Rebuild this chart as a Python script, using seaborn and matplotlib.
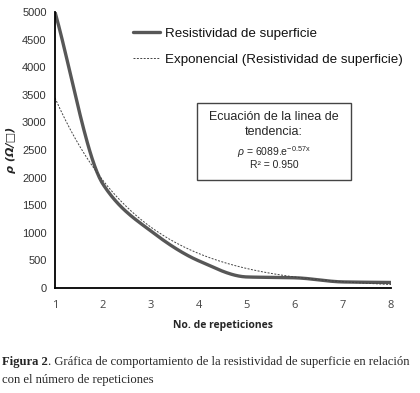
import numpy as np
import pandas as pd
import matplotlib
matplotlib.use("Agg")
import matplotlib.pyplot as plt
from matplotlib.patches import Rectangle
import seaborn as sns

# data
repeticiones = [1, 2, 3, 4, 5, 6, 7, 8]
resistividad = [5000, 1880, 1030, 490, 200, 185, 110, 100]
coef_a = 6089
coef_b = -0.57
r2 = 0.950


def suavizar(x, y, n=40):
    # monotone cubic (Fritsch-Carlson) for the smoothed line
    x = np.asarray(x, float)
    y = np.asarray(y, float)
    h = np.diff(x)
    d = np.diff(y) / h
    m = np.zeros_like(y)
    for i in range(1, len(y) - 1):
        if d[i - 1] * d[i] > 0:
            m[i] = 2 / (1 / d[i - 1] + 1 / d[i])
    m[0] = d[0]
    m[-1] = d[-1]
    xs, ys = [], []
    t = np.linspace(0, 1, n, endpoint=False)
    for i in range(len(x) - 1):
        h00 = 2 * t ** 3 - 3 * t ** 2 + 1
        h10 = t ** 3 - 2 * t ** 2 + t
        h01 = -2 * t ** 3 + 3 * t ** 2
        h11 = t ** 3 - t ** 2
        xs.extend(x[i] + t * h[i])
        ys.extend(h00 * y[i] + h10 * h[i] * m[i] + h01 * y[i + 1] + h11 * h[i] * m[i + 1])
    xs.append(x[-1])
    ys.append(y[-1])
    return np.array(xs), np.array(ys)


sx, sy = suavizar(repeticiones, resistividad)
df = pd.DataFrame({"x": sx, "y": sy})
tx = np.linspace(1, 8, 200)
df_tend = pd.DataFrame({"x": tx, "y": coef_a * np.exp(coef_b * tx)})

sns.set_style("white")
plt.rcParams['font.family'] = ['Liberation Sans', 'DejaVu Sans']
plt.rcParams['mathtext.fontset'] = 'custom'
plt.rcParams['mathtext.rm'] = 'Liberation Sans'
plt.rcParams['mathtext.it'] = 'Liberation Sans:italic'

fig = plt.figure(figsize=(4.2, 3.93), dpi=100)
ax = fig.add_axes([55 / 420, 1 - 288 / 393, 336 / 420, 276 / 393])

sns.lineplot(data=df, x="x", y="y", ax=ax, color="#575757", lw=2.4, sort=False,
             label="Resistividad de superficie")
sns.lineplot(data=df_tend, x="x", y="y", ax=ax, color="#444444", lw=0.7,
             linestyle=(0, (2, 1.5)), label="Exponencial (Resistividad de superficie)")

ax.set_xlim(1, 8)
ax.set_ylim(0, 5000)
ax.set_xticks(repeticiones)
ax.set_yticks(range(0, 5001, 500))
for s in ["top", "right"]:
    ax.spines[s].set_visible(False)
for s in ["left", "bottom"]:
    ax.spines[s].set_color("black")
    ax.spines[s].set_linewidth(1.3)
ax.tick_params(axis="y", direction="out", length=4, width=1, labelsize=8, colors="black",
               labelcolor="#333333", pad=2)
ax.tick_params(axis="x", direction="in", length=4, width=1, labelsize=8, colors="black",
               labelcolor="#444444", pad=9)
for lab in ax.get_xticklabels():
    lab.set_family("Open Sans")

ax.set_xlabel("No. de repeticiones", fontsize=7.5, fontweight="bold", family="Open Sans", labelpad=6)
ax.set_ylabel("ρ (Ω/□)", fontsize=8, fontweight="bold", style="italic", family="DejaVu Sans", labelpad=4)

leg = ax.legend(loc="upper left", bbox_to_anchor=(0.196, 0.988), frameon=False, fontsize=9.6,
                handlelength=2.0, handletextpad=0.38, labelspacing=1.05)
for t in leg.get_texts():
    t.set_color("#111111")

# trendline equation box
ax.add_patch(Rectangle((0.4226, 0.391), 0.4584, 0.279, transform=ax.transAxes,
                       fc="white", ec="#444444", lw=1, clip_on=False, zorder=5))
ax.text(0.652, 0.62, "Ecuación de la linea de", transform=ax.transAxes,
        ha="center", va="center", fontsize=9, zorder=6)
ax.text(0.652, 0.565, "tendencia:", transform=ax.transAxes,
        ha="center", va="center", fontsize=9, zorder=6)
ax.text(0.652, 0.493, r"$\rho$ = %d.e$^{\mathrm{%.2fx}}$" % (coef_a, coef_b), transform=ax.transAxes,
        ha="center", va="center", fontsize=7.5, zorder=6)
ax.text(0.652, 0.446, "R² = %.3f" % r2, transform=ax.transAxes,
        ha="center", va="center", fontsize=7.5, zorder=6)

t1 = fig.text(2 / 420, 1 - 365 / 393, "Figura 2", fontsize=9.1, family="Liberation Serif",
              fontweight="bold", va="baseline")
ax.annotate(". Gráfica de comportamiento de la resistividad de superficie en relación",
            xy=(1, 0), xycoords=t1, va="bottom", ha="left", fontsize=9.1,
            family="Liberation Serif", annotation_clip=False)
fig.text(2 / 420, 1 - 383 / 393, "con el número de repeticiones",
         fontsize=9.1, family="Liberation Serif", va="baseline")

fig.savefig("out.png", dpi=100)
